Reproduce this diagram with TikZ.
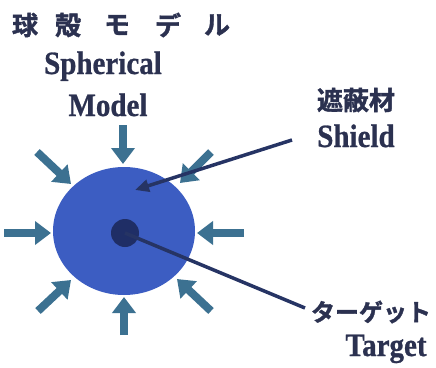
\documentclass[tikz,border=0pt]{standalone}
\usepackage{fontspec}
\setmainfont{Liberation Serif}[BoldFeatures={FakeBold=0.8}]
\newfontfamily\jpfont{Noto Sans CJK JP}[BoldFont={* Bold},BoldFeatures={FakeBold=1.5}]
\usetikzlibrary{arrows.meta,shapes.geometric}
\definecolor{txt}{HTML}{2B3150}
\definecolor{shellblue}{HTML}{3C5DC2}
\definecolor{dotblue}{HTML}{1F2E66}
\definecolor{arrowteal}{HTML}{3C7191}
\definecolor{leader}{HTML}{263464}
\newcommand{\tallen}[1]{\scalebox{1}[1.12]{#1}}
\tikzset{
  entxt/.style={font=\fontsize{29}{30}\selectfont\bfseries, text=txt, inner sep=0pt},
  jptxt/.style={font=\jpfont\fontsize{26}{28}\selectfont\bfseries, text=txt, inner sep=0pt},
  inarrow/.style={arrowteal, line width=8pt, -{Triangle[width=23pt,length=16pt]}},
  leaderline/.style={leader, line width=3.5pt},
}
\begin{document}
\begin{tikzpicture}[x=1pt,y=-1pt]
\useasboundingbox (0,0) rectangle (436,367);
% title
\node[jptxt] (t1) at (25,25) {球};
\node[jptxt] (t2) at (68,25) {殻};
\node[jptxt] (t3) at (117,25) {モ};
\node[jptxt] (t4) at (168,25) {デ};
\node[jptxt] (t5) at (217,25) {ル};
\node[entxt, anchor=base] (sph) at (103,74) {\tallen{Spherical}};
\node[entxt, anchor=base] (mod) at (108,116) {\tallen{Model}};
% sphere
\node[ellipse, fill=shellblue, minimum width=142pt, minimum height=128pt, inner sep=0pt] (shell) at (124,231) {};
\node[circle, fill=dotblue, minimum size=28pt, inner sep=0pt] (tgt) at (125,233) {};
% incoming arrows
\coordinate (aN) at (123,125); \coordinate (aNe) at (123,164);
\coordinate (aS) at (124,335); \coordinate (aSe) at (124,297);
\coordinate (aW) at (4,233);   \coordinate (aWe) at (51,233);
\coordinate (aE) at (244,233); \coordinate (aEe) at (197,233);
\coordinate (aNW) at (37,152); \coordinate (aNWe) at (71,184);
\coordinate (aNE) at (211,152); \coordinate (aNEe) at (180,183);
\coordinate (aSW) at (38,311); \coordinate (aSWe) at (71,280);
\coordinate (aSE) at (211,311); \coordinate (aSEe) at (177,279);
\foreach \a in {N,S,W,E,NW,NE,SW,SE} \draw[inarrow] (a\a) -- (a\a e);
% labels
\node[jptxt] (shj) at (356,100) {遮蔽材};
\node[entxt, anchor=base] (she) at (356,147) {\tallen{Shield}};
\node[jptxt, font=\jpfont\fontsize{24}{26}\selectfont\bfseries] (tgj) at (371,312) {ターゲット};
\node[entxt, anchor=base] (tge) at (386,356) {\tallen{Target}};
% leaders
\coordinate (shl) at (292,140);
\coordinate (shtip) at (135,190);
\draw[leaderline, -{Triangle[width=12pt,length=14pt]}] (shl) -- (shtip);
\coordinate (tgl) at (305,308);
\draw[leaderline] (tgt.center) -- (tgl);
\end{tikzpicture}
\end{document}
